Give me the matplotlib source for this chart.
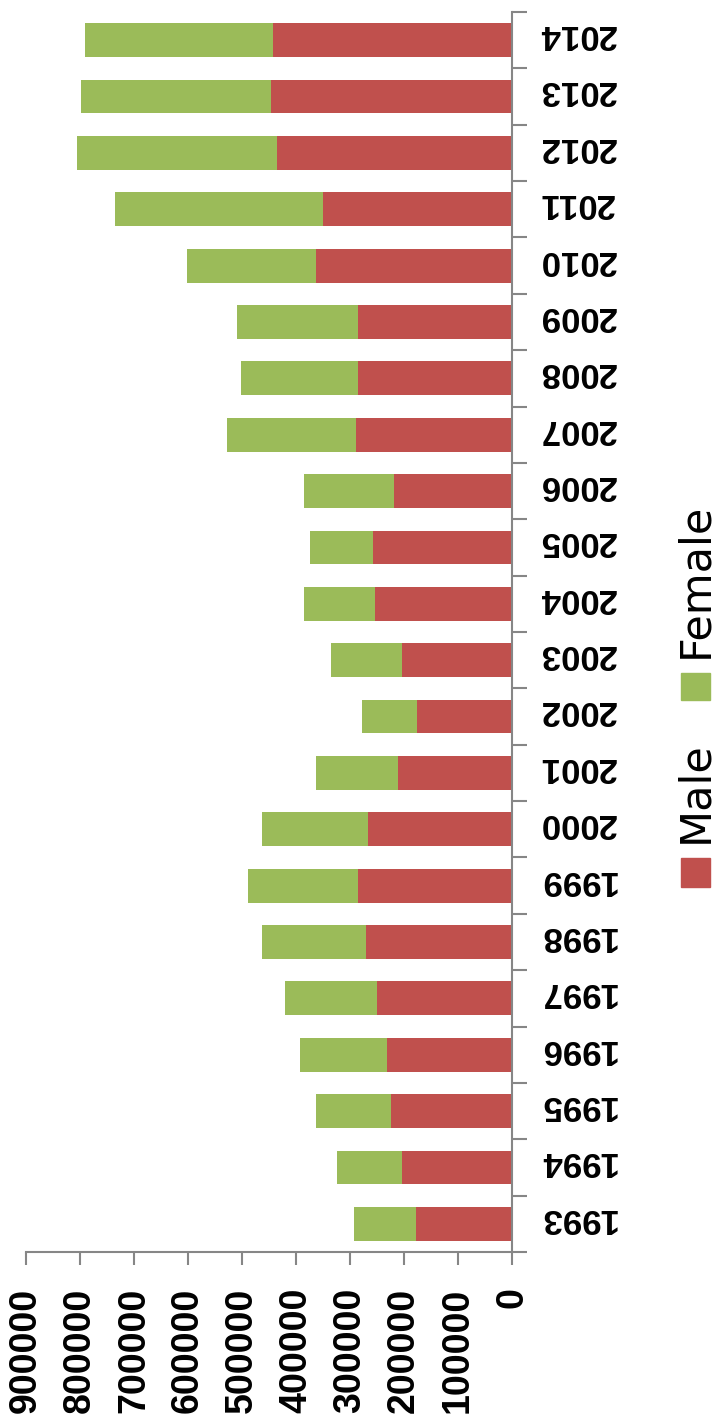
import matplotlib
matplotlib.use('Agg')
import matplotlib.pyplot as plt
import matplotlib.transforms as mtransforms
import numpy as np
from matplotlib.patches import Rectangle

years = ['1993', '1994', '1995', '1996', '1997', '1998', '1999', '2000', '2001', '2002', '2003',
         '2004', '2005', '2006', '2007', '2008', '2009', '2010', '2011', '2012', '2013', '2014']
male = [178000, 204000, 224000, 231000, 250000, 270000, 285000, 267000, 211000, 176000, 204000,
        254000, 257000, 218000, 289000, 285000, 285000, 363000, 350000, 435000, 446000, 443000]
total = [293000, 324000, 363000, 393000, 420000, 463000, 489000, 463000, 363000, 278000, 335000,
         385000, 374000, 385000, 528000, 502000, 509000, 602000, 735000, 805000, 798000, 791000]
female = [t - m for t, m in zip(total, male)]
xticks = list(range(0, 900001, 100000))

red = '#C0504D'
green = '#9BBB59'
grey = '#868686'

W, H = 723, 1427
fig = plt.figure(figsize=(W / 100, H / 100), dpi=100)
ax = fig.add_axes([26 / W, 1 - 1252 / H, (512 - 26) / W, (1252 - 12) / H])

pos = np.arange(len(years))
ax.barh(pos, male, height=0.6, color=red, label='Male')
ax.barh(pos, female, left=male, height=0.6, color=green, label='Female')

ax.set_xlim(900000, 0)
ax.set_ylim(-0.5, len(years) - 0.5)

for s in ['left', 'top']:
    ax.spines[s].set_visible(False)
for s in ['right', 'bottom']:
    ax.spines[s].set_color(grey)
    ax.spines[s].set_linewidth(1.5)

ax.yaxis.tick_right()
ax.set_yticks(np.arange(-0.5, len(years), 1))
ax.set_yticklabels([])
ax.set_yticks(pos, minor=True)
ax.set_yticklabels(years, minor=True, rotation=180, fontsize=25, fontweight='bold',
                   family='Liberation Sans', va='center')
ax.tick_params(axis='y', which='major', length=11, width=1.5, color=grey)
ax.tick_params(axis='y', which='minor', length=0, pad=19)
# upside-down labels sit a bit low, nudge them up
shift = mtransforms.ScaledTranslation(0, 4 / 72, fig.dpi_scale_trans)
for lbl in ax.get_yticklabels(minor=True):
    lbl.set_transform(lbl.get_transform() + shift)

ax.set_xticks(xticks)
ax.set_xticklabels([str(v) for v in xticks], rotation=90, fontsize=27, fontweight='bold',
                   family='Liberation Sans')
ax.tick_params(axis='x', length=9.5, width=1.5, color=grey, pad=16)

# rotated legend
def fx(px):
    return px / W

def fy(py):
    return 1 - py / H

fig.patches.append(Rectangle((fx(681), fy(887)), 29 / W, 29 / H, transform=fig.transFigure,
                             color=red, figure=fig))
fig.patches.append(Rectangle((fx(681), fy(700)), 29 / W, 27 / H, transform=fig.transFigure,
                             color=green, figure=fig))
fig.text(fx(695), fy(843), 'Male', rotation=90, fontsize=31, ha='center', va='bottom')
fig.text(fx(695), fy(658), 'Female', rotation=90, fontsize=31, ha='center', va='bottom')

fig.savefig('out.png', dpi=100)
